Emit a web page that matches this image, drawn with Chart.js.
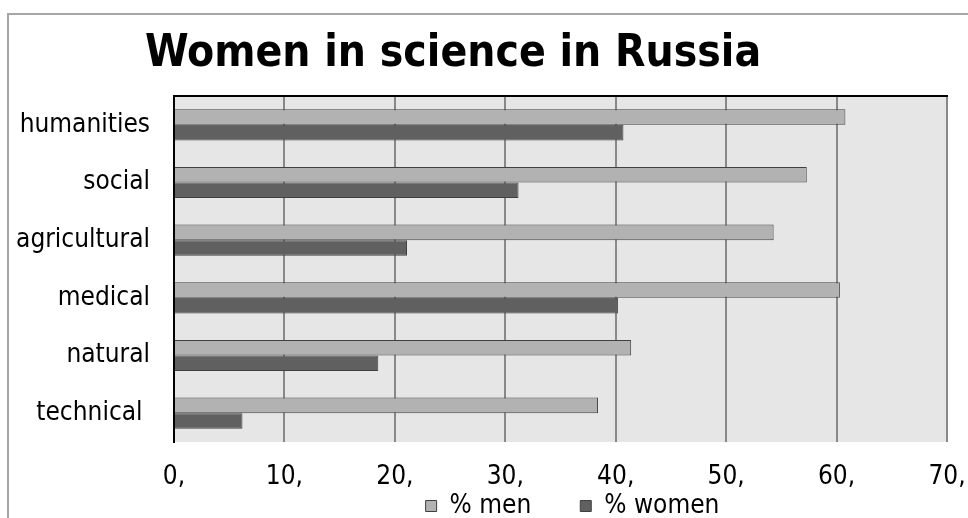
<!DOCTYPE html>
<html>
<head>
<meta charset="utf-8">
<title>Women in science in Russia</title>
<script src="https://cdn.jsdelivr.net/npm/chart.js@4.4.1/dist/chart.umd.min.js"></script>
<style>
  html, body { margin: 0; padding: 0; background: #ffffff; }
  #wrap { width: 968px; height: 518px; position: relative; }
</style>
</head>
<body>
<div id="wrap"><canvas id="chart" width="968" height="518"></canvas></div>
<script>
// Fields of science, top to bottom
const categories = ['humanities', 'social', 'agricultural', 'medical', 'natural', 'technical '];
// Share of researchers by sex, percent
const menShare = [60.8, 57.3, 54.3, 60.3, 41.4, 38.4];
const womenShare = [40.7, 31.2, 21.1, 40.2, 18.5, 6.2];
const seriesNames = ['% men', '% women'];
const chartTitle = 'Women in science in Russia';
const xMax = 70;
const xStep = 10;

const FONT = "'DejaVu Sans Condensed', 'DejaVu Sans', sans-serif";
const LEGEND_GAP = 49;     // horizontal space between legend entries
const LEGEND_CENTER_Y = 506;
const LEGEND_SHIFT_X = 12;

// Outer frame, plot background, top border and title
const decor = {
  id: 'decor',
  afterLayout(chart) {
    // keep the wide entry spacing without giving the legend a tall box
    const lg = chart.legend;
    if (!lg) return;
    lg.top = LEGEND_CENTER_Y - 13 - LEGEND_GAP;
    lg.bottom = chart.height;
    lg.height = lg.bottom - lg.top;
    lg.left += LEGEND_SHIFT_X;
    lg.right += LEGEND_SHIFT_X;
  },
  beforeDraw(chart) {
    const { ctx, chartArea: a } = chart;
    ctx.save();
    ctx.fillStyle = '#ffffff';
    ctx.fillRect(0, 0, chart.width, chart.height);
    ctx.strokeStyle = '#a6a6a6';
    ctx.lineWidth = 2;
    ctx.beginPath();
    ctx.moveTo(8, chart.height + 2);
    ctx.lineTo(8, 14);
    ctx.lineTo(chart.width + 2, 14);
    ctx.stroke();
    ctx.fillStyle = '#e6e6e6';
    ctx.fillRect(a.left, a.top, a.right - a.left, a.bottom - a.top);
    ctx.restore();
  },
  afterDatasetsDraw(chart) {
    const { ctx, chartArea: a } = chart;
    ctx.save();
    ctx.strokeStyle = '#000000';
    ctx.lineWidth = 2;
    ctx.beginPath();
    ctx.moveTo(a.left - 1, a.top);
    ctx.lineTo(a.right + 1, a.top);
    ctx.stroke();
    ctx.fillStyle = '#000000';
    ctx.font = "bold 44px " + FONT;
    ctx.textAlign = 'center';
    ctx.textBaseline = 'alphabetic';
    ctx.fillText(chartTitle, 453, 66);
    ctx.restore();
  }
};

new Chart(document.getElementById('chart'), {
  type: 'bar',
  data: {
    labels: categories,
    datasets: [
      {
        label: seriesNames[0],
        data: menShare,
        backgroundColor: '#b2b2b2',
        borderColor: '#404040',
        borderWidth: 1
      },
      {
        label: seriesNames[1],
        data: womenShare,
        backgroundColor: '#606060',
        borderColor: '#404040',
        borderWidth: 1
      }
    ]
  },
  options: {
    indexAxis: 'y',
    responsive: false,
    animation: false,
    devicePixelRatio: 1,
    categoryPercentage: 0.54,
    barPercentage: 1.0,
    layout: { padding: { top: 96, left: 0, right: 21, bottom: 0 } },
    plugins: {
      title: { display: false },
      tooltip: { enabled: false },
      legend: {
        position: 'bottom',
        fullSize: false,
        maxHeight: 24,
        labels: {
          color: '#000000',
          font: { family: FONT, size: 26 },
          boxWidth: 11,
          boxHeight: 11,
          padding: LEGEND_GAP
        }
      }
    },
    scales: {
      x: {
        min: 0,
        max: xMax,
        ticks: {
          stepSize: xStep,
          color: '#000000',
          font: { family: FONT, size: 26 },
          padding: 20,
          callback: (v) => v + ','
        },
        grid: {
          color: (c) => (c.tick && c.tick.value === 0 ? '#000000' : '#888888'),
          lineWidth: 2,
          drawTicks: false
        },
        border: { display: false },
        afterFit(scale) {
          scale.height = 52;
          scale.paddingLeft = 0;
          scale.paddingRight = 0;
        }
      },
      y: {
        ticks: {
          color: '#000000',
          font: { family: FONT, size: 26 },
          padding: 24
        },
        grid: { display: false, drawTicks: false },
        border: { display: true, color: '#000000', width: 2 },
        afterFit(scale) { scale.width = 174; }
      }
    }
  },
  plugins: [decor]
});
</script>
</body>
</html>
